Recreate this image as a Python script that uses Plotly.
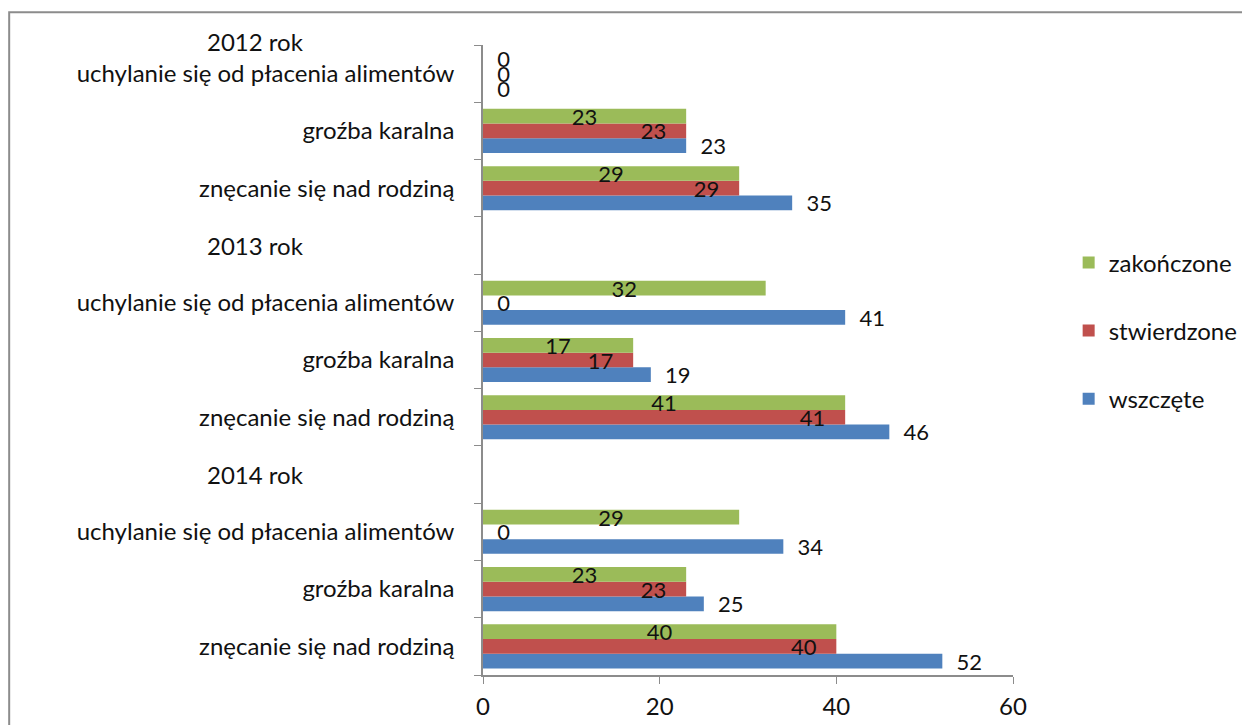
import plotly.graph_objects as go

# ---------------- data ----------------
years = ["2012 rok", "2013 rok", "2014 rok"]
offenses = ["uchylanie się od płacenia alimentów", "groźba karalna", "znęcanie się nad rodziną"]
series_names = ["wszczęte", "stwierdzone", "zakończone"]
# values listed year by year (2012, 2013, 2014), offenses in the order above
wszczete = [0, 23, 35, 41, 19, 46, 34, 25, 52]
stwierdzone = [0, 23, 29, 0, 17, 41, 0, 23, 40]
zakonczone = [0, 23, 29, 32, 17, 41, 29, 23, 40]
x_ticks = [0, 20, 40, 60]

colors = ["#4F81BD", "#C0504D", "#9BBB59"]
FONT = "Lato"
FS = 24
FS_DATA = 22
TXT = "#111111"
NB = "\u00a0"

# slot positions: each year block has a header slot + 3 offense slots, top-down
n_slots = 4 * len(years) - 1
pos, labels = [], []
header_pos = []
for i, yr in enumerate(years):
    header_pos.append(n_slots - 4 * i)
    for j, off in enumerate(offenses):
        pos.append(n_slots - 1 - (4 * i + j))
        labels.append(off)

fig = go.Figure()
vals_list = [wszczete, stwierdzone, zakonczone]
anchors = [None, "end", "middle"]
for k, (name, vals) in enumerate(zip(series_names, vals_list)):
    if k == 0:
        tp = ["outside"] * len(vals)
        txt = [NB * 2 + str(v) for v in vals]
    elif k == 1:
        tp = ["outside" if v == 0 else "inside" for v in vals]
        txt = [NB * 2 + str(v) if v == 0 else str(v) + NB * 3 for v in vals]
    else:
        tp = ["outside" if v == 0 else "inside" for v in vals]
        txt = [NB * 2 + str(v) if v == 0 else str(v) for v in vals]
    kw = {}
    if anchors[k]:
        kw["insidetextanchor"] = anchors[k]
    fig.add_trace(go.Bar(
        y=pos, x=vals, orientation="h", name=name,
        marker=dict(color=colors[k], line=dict(width=0)),
        text=txt, textposition=tp, textangle=0,
        textfont=dict(family=FONT, size=FS_DATA, color=TXT),
        insidetextfont=dict(family=FONT, size=FS_DATA, color=TXT),
        outsidetextfont=dict(family=FONT, size=FS_DATA, color=TXT),
        constraintext="none", cliponaxis=False,
        legendgroup=name, legendrank=3 - k, **kw,
    ))

# year header annotations
for i, yr in enumerate(years):
    yv = header_pos[i]
    if yv > n_slots - 1:
        fig.add_annotation(text=yr, x=-0.43, xref="paper", y=1.005, yref="paper",
                           xanchor="center", yanchor="middle", showarrow=False,
                           font=dict(family=FONT, size=FS, color=TXT))
    else:
        fig.add_annotation(text=yr, x=-0.43, xref="paper", y=yv, yref="y",
                           xanchor="center", yanchor="middle", showarrow=False,
                           font=dict(family=FONT, size=FS, color=TXT))

# outer chart border
fig.add_shape(type="rect", xref="paper", yref="paper",
              x0=-0.894, x1=1.47, y0=-0.15, y1=1.052,
              line=dict(color="#8c8c8c", width=2), fillcolor="rgba(0,0,0,0)")

fig.update_layout(
    width=1250, height=725,
    margin=dict(l=475, r=245, t=37, b=58),
    paper_bgcolor="white", plot_bgcolor="white",
    barmode="group", bargap=0.23, bargroupgap=0,
    font=dict(family=FONT, size=FS, color=TXT),
    legend=dict(x=1.105, y=0.69, xanchor="left", yanchor="top",
                traceorder="grouped", tracegroupgap=34,
                font=dict(family=FONT, size=FS, color=TXT),
                bgcolor="rgba(0,0,0,0)"),
    xaxis=dict(range=[0, 60], tickvals=x_ticks, showgrid=False, zeroline=False,
               showline=True, linecolor="#8c8c8c", linewidth=1.5,
               ticks="outside", ticklen=7, tickcolor="#8c8c8c",
               ticklabelstandoff=2,
               tickfont=dict(family=FONT, size=FS, color=TXT)),
    yaxis=dict(range=[-0.5, n_slots - 0.5], tickvals=pos, ticktext=labels,
               showgrid=False, zeroline=False, showline=True,
               linecolor="#8c8c8c", linewidth=1.5, ticks="",
               ticklabelstandoff=22,
               minor=dict(tick0=0.5, dtick=1, ticks="outside", ticklen=7,
                          tickcolor="#8c8c8c", showgrid=False),
               tickfont=dict(family=FONT, size=FS, color=TXT)),
)

fig.write_html("out.html")
